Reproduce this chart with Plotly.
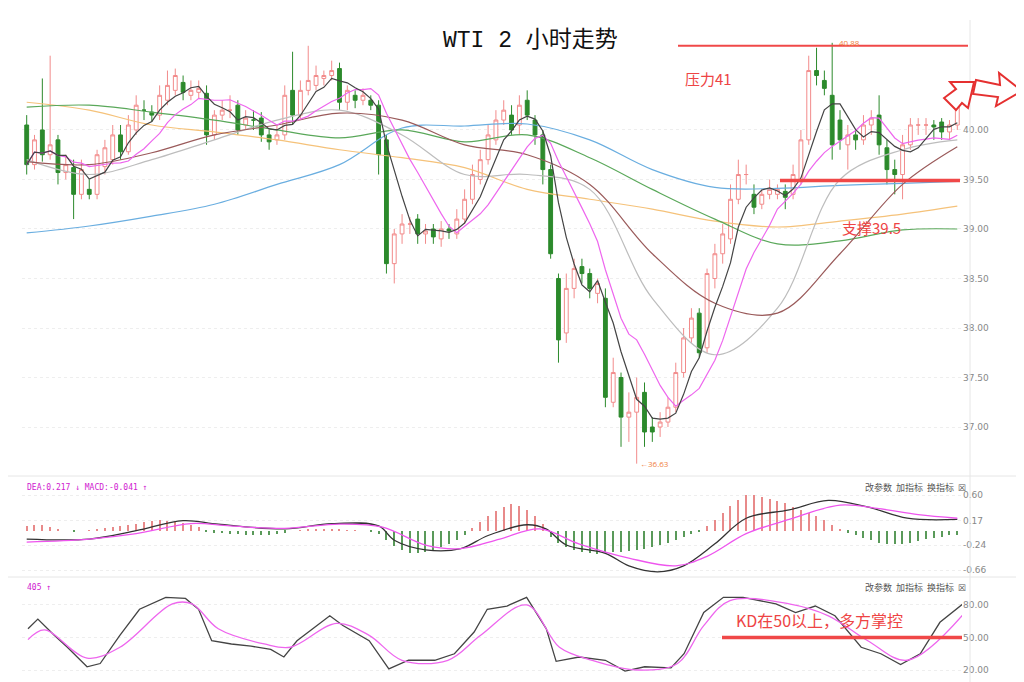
import plotly.graph_objects as go
import pandas as pd

# ---------------- data ----------------
opens = [40.05,39.65,40.0,39.75,39.9,39.57,39.62,39.35,39.4,39.35,
         39.63,39.7,39.95,39.78,40.0,40.2,40.18,40.15,40.3,40.4,
         40.48,40.35,40.38,40.37,39.95,40.15,40.2,40.25,40.05,40.1,
         40.12,39.95,39.9,39.95,40.4,40.15,40.4,40.45,40.52,40.55,
         40.62,40.28,40.35,40.3,40.3,40.25,39.9,38.65,38.95,39.05,
         39.1,38.95,39.0,38.9,39.0,38.95,39.1,39.3,39.5,39.7,
         39.9,40.1,40.15,40.05,40.3,40.1,39.95,39.6,38.5,37.95,
         38.4,38.62,38.55,38.35,38.3,37.25,37.5,37.1,37.15,37.35,
         37.0,37.0,37.05,37.2,37.55,37.9,38.15,37.8,38.5,38.75,
         38.9,39.3,39.55,39.35,39.25,39.35,39.35,39.38,39.35,39.5,
         39.9,40.6,40.5,40.35,40.1,39.85,39.95,39.9,40.05,40.15,
         39.82,39.6,39.55,39.85,40.05,40.05,40.05,40.08,39.98,40.05]
closes = [39.65,39.9,39.75,39.85,39.57,39.65,39.35,39.6,39.35,39.75,
          39.82,39.95,39.78,40.05,40.25,40.2,40.15,40.35,40.45,40.55,
          40.38,40.4,40.42,39.95,40.15,40.2,40.2,40.0,40.12,40.1,
          39.95,39.88,39.95,40.35,40.15,40.4,40.5,40.55,40.55,40.6,
          40.28,40.4,40.3,40.35,40.25,39.75,38.65,38.95,39.05,39.05,
          38.95,38.98,38.92,39.0,38.98,39.1,39.3,39.55,39.7,39.95,
          40.1,40.2,40.0,40.25,40.15,39.95,39.6,38.75,37.88,38.4,
          38.6,38.55,38.4,38.45,37.3,37.55,37.1,37.15,37.3,36.95,
          36.95,37.05,37.2,37.55,37.9,38.1,37.75,38.55,38.75,38.95,
          39.3,39.55,39.55,39.22,39.35,39.4,39.4,39.32,39.55,39.9,
          40.6,40.55,40.42,39.85,39.9,39.95,39.9,40.05,40.12,39.85,
          39.6,39.55,39.85,40.05,40.05,40.05,40.03,39.98,40.05,40.25]
highs = [40.15,39.95,40.52,40.75,39.95,39.75,39.7,39.7,39.5,39.8,
         39.9,40.05,40.05,40.15,40.35,40.3,40.25,40.45,40.6,40.62,
         40.55,40.5,40.5,40.45,40.2,40.3,40.35,40.3,40.2,40.2,
         40.18,40.0,40.05,40.45,40.79,40.5,40.85,40.65,40.6,40.7,
         40.68,40.45,40.4,40.42,40.35,40.3,39.95,39.0,39.15,39.12,
         39.15,39.05,39.05,39.08,39.05,39.2,39.4,39.65,39.8,40.05,
         40.2,40.3,40.25,40.35,40.4,40.15,40.0,39.65,38.55,38.55,
         38.7,38.7,38.6,38.5,38.4,37.7,37.55,37.35,37.5,37.45,
         37.1,37.15,37.3,37.65,38.0,38.2,38.2,38.6,38.85,39.05,
         39.45,39.7,39.65,39.45,39.4,39.5,39.45,39.45,39.65,40.0,
         40.75,40.83,40.6,40.88,40.2,40.05,40.0,40.15,40.2,40.35,
         39.9,39.7,39.95,40.12,40.12,40.12,40.1,40.12,40.1,40.45]
lows = [39.55,39.6,39.68,39.7,39.45,39.5,39.1,39.3,39.3,39.3,
        39.55,39.65,39.7,39.75,39.95,40.1,40.08,40.1,40.25,40.35,
        40.3,40.3,40.32,39.85,39.9,40.1,40.12,39.95,40.0,40.0,
        39.88,39.8,39.85,39.9,40.05,40.1,40.35,40.4,40.45,40.5,
        40.2,40.2,40.22,40.25,40.2,39.55,38.55,38.45,38.85,38.95,
        38.85,38.85,38.85,38.82,38.9,38.9,39.05,39.25,39.45,39.65,
        39.85,40.05,39.95,39.95,40.1,39.85,39.45,38.7,37.65,37.85,
        38.3,38.45,38.3,38.25,37.2,37.2,36.8,36.85,36.63,36.8,
        36.85,36.9,37.0,37.15,37.5,37.85,37.7,37.75,38.4,38.65,
        38.85,39.25,39.45,39.15,39.2,39.3,39.3,39.2,39.3,39.45,
        39.85,40.45,40.35,39.7,39.8,39.6,39.8,39.85,39.95,39.75,
        39.45,39.35,39.3,39.8,39.95,39.95,39.9,39.9,39.9,40.0]

ma_idx = [0,8,16,24,32,40,48,56,64,72,80,88,96,104,112,119]
ma_gray   = [39.7,39.55,39.7,39.9,40.1,40.2,39.95,39.55,39.55,39.4,38.3,37.73,38.2,39.5,39.8,39.9]
ma_brown  = [39.68,39.65,39.77,39.95,40.05,40.17,40.1,39.85,39.75,39.45,38.75,38.25,38.15,38.75,39.45,39.83]
ma_green  = [40.23,40.25,40.18,40.1,40.0,39.92,40.0,39.88,39.95,39.72,39.4,39.1,38.85,38.88,38.99,39.0]
ma_yellow = [40.28,40.2,40.05,39.98,39.9,39.8,39.72,39.62,39.4,39.3,39.2,39.08,39.02,39.08,39.15,39.23]
ma_blue   = [38.96,39.03,39.13,39.25,39.45,39.65,40.02,40.04,40.06,39.9,39.6,39.42,39.41,39.44,39.46,39.48]

dif_idx = [0,8,14,20,24.5,33,39,45,47,51,55.5,59,64,66.4,69,74,77,80.7,84,88,92,97.5,102.5,107.5,112.6,119]
dif_val = [-0.14,-0.14,0.0,0.17,0.11,0.03,0.12,0.08,-0.16,-0.32,-0.3,-0.08,0.1,0.03,-0.24,-0.38,-0.59,-0.69,-0.59,-0.22,0.21,0.35,0.51,0.4,0.21,0.19]
dea_idx = [0,8,14,21,26,33,40,45.5,51,55.5,60.5,65.6,70.6,77,83,87,92,97.5,104,109,114,119]
dea_val = [-0.19,-0.14,-0.05,0.12,0.08,0.04,0.11,0.06,-0.24,-0.3,-0.14,0.03,-0.22,-0.46,-0.59,-0.43,-0.05,0.19,0.43,0.37,0.27,0.21]
macd_hist = [0.08,0.1,0.09,0.06,0.03,0.0,
             -0.01,0.0,0.01,0.02,
             0.04,0.06,0.08,0.1,0.12,0.15,0.17,0.18,0.17,0.15,0.13,0.1,0.06,
             -0.02,-0.03,-0.04,-0.05,-0.06,-0.07,-0.08,-0.08,-0.07,-0.05,-0.03,
             0.0,0.01,0.02,0.03,0.03,0.02,0.02,0.01,0.01,0.0,-0.02,-0.05,
             -0.15,-0.25,-0.33,-0.37,-0.38,-0.36,-0.33,-0.28,-0.22,-0.15,-0.07,
             0.05,0.15,0.25,0.33,0.4,0.45,0.42,0.35,0.25,0.12,
             -0.1,-0.2,-0.28,-0.33,-0.36,-0.38,-0.39,-0.38,-0.36,-0.35,-0.34,-0.32,-0.3,-0.28,-0.24,-0.2,-0.16,-0.11,-0.06,-0.02,
             0.08,0.18,0.3,0.42,0.52,0.6,0.6,0.57,0.53,0.5,0.46,0.4,0.35,0.3,0.25,0.18,0.1,0.03,
             -0.03,-0.08,-0.12,-0.16,-0.2,-0.22,-0.23,-0.22,-0.2,-0.17,-0.14,-0.12,-0.1,-0.08,-0.07]

k_xz = [40,55,80,100,130,150,180,210,250,280,300,320,350,380,410,430,450,480,500,520,560,590,620,660,690,720,740,770,800,830,845,880,920,950,980,1020,1040,1070,1100,1130,1180,1210,1240,1270,1310,1340,1370,1400,1430,1465]
k_val = [58,67,52,41,23,26,52,76,87,86,76,47,44,42,39,32,47,61,70,61,47,21,29,29,35,55,76,79,87,58,28,32,29,19,23,22,35,73,87,87,81,73,79,70,41,35,25,35,64,81]
d_xz = [40,65,130,180,260,290,330,400,440,510,560,610,680,730,800,850,900,970,1030,1070,1110,1200,1260,1320,1380,1465]
d_val = [48,57,31,41,81,81,58,44,41,63,52,29,29,52,80,41,29,20,26,61,84,81,70,47,29,71]
k_idx = [(v - 38) / 11.92 for v in k_xz]
d_idx = [(v - 38) / 11.92 for v in d_xz]

price_ticks = [37.0, 37.5, 38.0, 38.5, 39.0, 39.5, 40.0]
macd_ticks = [0.60, 0.17, -0.24, -0.66]
kd_ticks = [20, 50, 80]

# ---------------- figure ----------------
N = len(closes)
idx = list(range(N))
fig = go.Figure()

fig.add_trace(go.Candlestick(
    x=idx, open=opens, high=highs, low=lows, close=closes,
    increasing=dict(line=dict(color="#f28b8b", width=1), fillcolor="#ffffff"),
    decreasing=dict(line=dict(color="#2c8a2c", width=1), fillcolor="#2c8a2c"),
    whiskerwidth=0, showlegend=False, xaxis="x", yaxis="y"))

s = pd.Series(closes)
ma5 = s.rolling(5, min_periods=1).mean()
ma10 = s.rolling(10, min_periods=1).mean()

def line(x, y, color, yaxis="y", width=1.2, shape="spline"):
    fig.add_trace(go.Scatter(x=x, y=y, mode="lines", line=dict(color=color, width=width, shape=shape),
                             showlegend=False, hoverinfo="skip", xaxis="x", yaxis=yaxis))

line(ma_idx, ma_blue, "#6aaee0")
line(ma_idx, ma_yellow, "#f5c27a")
line(ma_idx, ma_green, "#5aa85a")
line(ma_idx, ma_gray, "#bdbdbd")
line(ma_idx, ma_brown, "#9a5a5a")
line(idx, list(ma10), "#ee66ee", shape="linear")
line(idx, list(ma5), "#444444", shape="linear")

fig.add_trace(go.Bar(x=idx, y=macd_hist, width=0.15,
                     marker=dict(color=["#e88a8a" if v >= 0 else "#5a9a5a" for v in macd_hist], line=dict(width=0)),
                     showlegend=False, xaxis="x", yaxis="y2"))
line(dif_idx, dif_val, "#333333", yaxis="y2", width=1.3)
line(dea_idx, dea_val, "#ee55ee", yaxis="y2", width=1.3)

line(k_idx, k_val, "#444444", yaxis="y3", width=1.3, shape="linear")
line(d_idx, d_val, "#ee66ee", yaxis="y3", width=1.3)

OFF = 8  # page offset of the rendered figure

def py(p):
    return 1 - (p - OFF) / 682

def px(p):
    return (p - OFF) / 1024

axis_common = dict(showgrid=True, gridcolor="#eeeeee", griddash="dot", zeroline=False,
                   side="right", tickfont=dict(size=9, color="#888888", family="DejaVu Sans"),
                   showline=False, ticks="", fixedrange=True)

fig.update_layout(
    width=1024, height=682, margin=dict(l=0, r=0, t=0, b=0),
    paper_bgcolor="white", plot_bgcolor="white", bargap=0,
    xaxis=dict(domain=[px(22), px(962)], range=[-0.6, 119.6], showticklabels=False,
               showgrid=False, zeroline=False, rangeslider=dict(visible=False), fixedrange=True),
    yaxis=dict(domain=[py(470), py(25)], range=[36.566, 41.06], tickvals=price_ticks,
               ticktext=[f"{v:.2f}" for v in price_ticks], **axis_common),
    yaxis2=dict(domain=[py(575), py(478)], range=[-0.744, 0.886], tickvals=macd_ticks,
                ticktext=["0.60", "0.17", "-0.24", "-0.66"], anchor="x", **axis_common),
    yaxis3=dict(domain=[max(0, py(680)), py(580)], range=[10.8, 103], tickvals=kd_ticks,
                ticktext=["20.00", "50.00", "80.00"], anchor="x", **axis_common),
)

shapes = [
    dict(type="line", xref="paper", yref="paper", x0=0, x1=1, y0=py(476), y1=py(476), line=dict(color="#e6e6e6", width=1)),
    dict(type="line", xref="paper", yref="paper", x0=0, x1=1, y0=py(577), y1=py(577), line=dict(color="#e6e6e6", width=1)),
    dict(type="line", xref="paper", yref="paper", x0=px(970), x1=px(970), y0=0, y1=py(20), line=dict(color="#e6e6e6", width=1)),
    dict(type="line", xref="paper", yref="y", x0=px(678), x1=px(968), y0=40.85, y1=40.85, line=dict(color="#f04848", width=2)),
    dict(type="line", xref="paper", yref="y", x0=px(780), x1=px(960), y0=39.49, y1=39.49, line=dict(color="#f04848", width=3.5)),
    dict(type="line", xref="paper", yref="y3", x0=px(722), x1=px(962), y0=50, y1=50, line=dict(color="#f04848", width=3.5)),
]
def arrow_path(pts):
    return "M " + " L ".join(f"{px(x):.4f},{py(y):.4f}" for x, y in pts) + " Z"
shapes.append(dict(type="path", xref="paper", yref="paper", line=dict(color="#e53030", width=2), fillcolor="white",
                   path=arrow_path([(944, 98), (956, 110), (962, 103), (968, 108), (974, 82), (950, 82), (956, 89)])))
shapes.append(dict(type="path", xref="paper", yref="paper", line=dict(color="#e53030", width=2), fillcolor="white",
                   path=arrow_path([(976, 80), (1000, 85), (999, 73), (1022, 91), (996, 106), (998, 97), (973, 94)])))
fig.update_layout(shapes=shapes)

red = "#ee4444"
ann = [
    dict(text="WTI 2 小时走势", xref="paper", yref="paper", x=px(530), y=py(41), yanchor="middle", showarrow=False,
         font=dict(size=23, color="#111111", family="Liberation Mono, Noto Sans CJK SC")),
    dict(text="压力41", xref="paper", yref="paper", x=px(683), y=py(78), xanchor="left", yanchor="middle", showarrow=False,
         font=dict(size=15, color=red, family="Noto Sans CJK SC")),
    dict(text="支撑39.5", xref="paper", yref="paper", x=px(840), y=py(228), xanchor="left", yanchor="middle", showarrow=False,
         font=dict(size=15, color=red, family="Noto Sans CJK SC")),
    dict(text="KD在50以上，多方掌控", xref="paper", yref="paper", x=px(734), y=py(620), xanchor="left", yanchor="middle", showarrow=False,
         font=dict(size=16, color=red, family="Noto Sans CJK SC")),
    dict(text="40.88", xref="x", yref="y", x=103.6, y=40.88, xanchor="left", showarrow=False,
         font=dict(size=8, color="#f08040")),
    dict(text="←36.63", xref="x", yref="y", x=78.2, y=36.63, xanchor="left", showarrow=False,
         font=dict(size=8, color="#f08040")),
    dict(text="DEA:0.217 ↓ MACD:-0.041 ↑", xref="paper", yref="paper", x=px(25), y=py(487), xanchor="left", yanchor="middle", showarrow=False,
         font=dict(size=8, color="#d020d0", family="DejaVu Sans Mono")),
    dict(text="405 ↑", xref="paper", yref="paper", x=px(25), y=py(587), xanchor="left", yanchor="middle", showarrow=False,
         font=dict(size=8, color="#d020d0", family="DejaVu Sans Mono")),
]
for yy in (487, 587):
    ann.append(dict(text="改参数  加指标  换指标  ☒", xref="paper", yref="paper", x=px(968), y=py(yy), xanchor="right",
                    yanchor="middle", showarrow=False, font=dict(size=9, color="#555555", family="Noto Sans CJK SC")))
fig.update_layout(annotations=ann)

fig.write_html("out.html")
